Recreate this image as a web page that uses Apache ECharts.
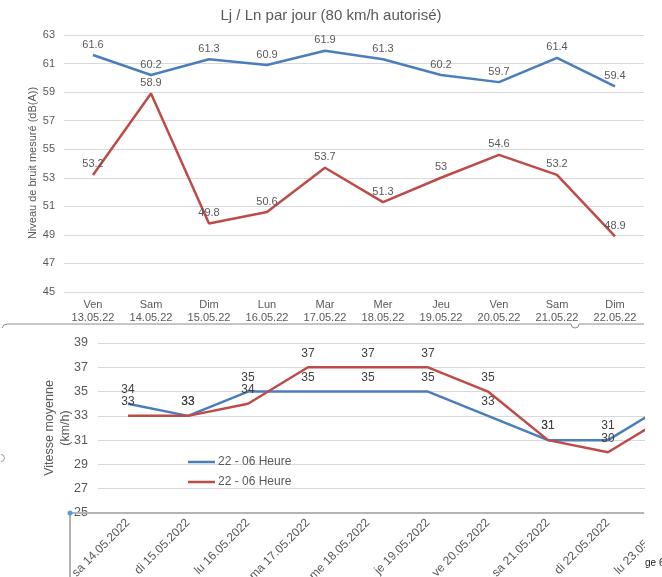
<!DOCTYPE html>
<html>
<head>
<meta charset="utf-8">
<script src="https://cdn.jsdelivr.net/npm/echarts@6/dist/echarts.min.js"></script>
<style>
  html, body { margin: 0; padding: 0; background: #ffffff; }
  #chart { width: 662px; height: 577px; }
</style>
</head>
<body>
<div id="chart"></div>
<script>
// Daily noise levels (upper panel)
const dayLabels = ['Ven\n13.05.22', 'Sam\n14.05.22', 'Dim\n15.05.22', 'Lun\n16.05.22', 'Mar\n17.05.22',
                   'Mer\n18.05.22', 'Jeu\n19.05.22', 'Ven\n20.05.22', 'Sam\n21.05.22', 'Dim\n22.05.22'];
const lj = [61.6, 60.2, 61.3, 60.9, 61.9, 61.3, 60.2, 59.7, 61.4, 59.4];
const ln = [53.2, 58.9, 49.8, 50.6, 53.7, 51.3, 53, 54.6, 53.2, 48.9];

// Night-time mean speed (lower panel)
const speedDays = ['sa 14.05.2022', 'di 15.05.2022', 'lu 16.05.2022', 'ma 17.05.2022', 'me 18.05.2022',
                   'je 19.05.2022', 've 20.05.2022', 'sa 21.05.2022', 'di 22.05.2022', 'lu 23.05.2022'];
const speedBlue = [34, 33, 35, 35, 35, 35, 33, 31, 31, 34];
const speedRed = [33, 33, 34, 37, 37, 37, 35, 31, 30, 33];
const legendName = '22 - 06 Heure';

const BLUE = '#4A7EBB';
const RED = '#BE4B48';
const GREY = '#595959';
const GRID = '#d9d9d9';
const FONT = '"Liberation Sans", Arial, sans-serif';

const chart = echarts.init(document.getElementById('chart'), null, { renderer: 'canvas' });

function lineSeries(data, color, xi, yi, fontSize, dist, z) {
  return {
    type: 'line',
    xAxisIndex: xi,
    yAxisIndex: yi,
    data: data,
    symbol: 'circle',
    symbolSize: 0,
    z: z,
    lineStyle: { color: color, width: 2.5 },
    itemStyle: { color: color },
    label: {
      show: true, position: 'top', distance: dist,
      color: xi === 0 ? GREY : '#404040', fontSize: fontSize, fontFamily: FONT
    },
    emphasis: { disabled: true },
    animation: false
  };
}

const option = {
  animation: false,
  backgroundColor: '#ffffff',
  textStyle: { fontFamily: FONT },
  title: {
    text: 'Lj / Ln par jour (80 km/h autorisé)',
    left: 'center', top: 3,
    textStyle: { fontSize: 15, fontWeight: 'normal', color: GREY, fontFamily: FONT }
  },
  grid: [
    { left: 64, top: 35, width: 580, height: 257, outerBoundsMode: 'none', containLabel: false },
    { left: 98, top: 343, width: 600, height: 170, outerBoundsMode: 'none', containLabel: false }
  ],
  xAxis: [
    {
      gridIndex: 0, type: 'category', data: dayLabels, boundaryGap: true,
      axisLine: { lineStyle: { color: GRID } }, axisTick: { show: false },
      axisLabel: { color: GREY, fontSize: 11, lineHeight: 13, margin: 6, interval: 0, fontFamily: FONT }
    },
    {
      gridIndex: 1, type: 'category', data: speedDays, boundaryGap: true,
      axisLine: { show: false }, axisTick: { show: false },
      axisLabel: { color: GREY, fontSize: 12, rotate: 45, margin: 8, interval: 0, fontFamily: FONT }
    }
  ],
  yAxis: [
    {
      gridIndex: 0, type: 'value', min: 45, max: 63, interval: 2,
      axisLine: { show: false }, axisTick: { show: false },
      splitLine: { lineStyle: { color: GRID, width: 1 } },
      axisLabel: { color: GREY, fontSize: 11, margin: 9, fontFamily: FONT }
    },
    {
      gridIndex: 1, type: 'value', min: 25, max: 39, interval: 2,
      axisLine: { show: false }, axisTick: { show: false },
      splitLine: { lineStyle: { color: GRID, width: 1 } },
      axisLabel: { color: GREY, fontSize: 12.5, margin: 10, fontFamily: FONT }
    }
  ],
  series: [
    lineSeries(lj, BLUE, 0, 0, 11, 5, 3),
    lineSeries(ln, RED, 0, 0, 11, 5, 3),
    lineSeries(speedBlue, BLUE, 1, 1, 12, 8, 3),
    lineSeries(speedRed, RED, 1, 1, 12, 8, 4)
  ],
  graphic: [
    // axis titles
    {
      type: 'text', x: 33, y: 163, rotation: Math.PI / 2, z: 10,
      style: { text: 'Niveau de bruit mesuré (dB(A))', fill: GREY, font: '11px ' + FONT,
               textAlign: 'center', textVerticalAlign: 'middle' }
    },
    {
      type: 'text', x: 58, y: 428, rotation: Math.PI / 2, z: 10,
      style: { text: 'Vitesse moyenne\n(km/h)', fill: GREY, font: '12.5px ' + FONT,
               textAlign: 'center', textVerticalAlign: 'middle', lineHeight: 16 }
    },
    // legend of the speed panel
    { type: 'line', z: 10, shape: { x1: 188, y1: 462, x2: 215, y2: 462 }, style: { stroke: BLUE, lineWidth: 2.5 } },
    { type: 'text', z: 10, x: 218, y: 462,
      style: { text: legendName, fill: GREY, font: '12px ' + FONT, textVerticalAlign: 'middle' } },
    { type: 'line', z: 10, shape: { x1: 188, y1: 482, x2: 215, y2: 482 }, style: { stroke: RED, lineWidth: 2.5 } },
    { type: 'text', z: 10, x: 218, y: 482,
      style: { text: legendName, fill: GREY, font: '12px ' + FONT, textVerticalAlign: 'middle' } },
    // page separator between the two panels
    { type: 'polyline', z: 10, shape: { points: [[2, 328], [4, 325], [7, 324], [571, 324]] },
      style: { stroke: '#8c8c8c', lineWidth: 1, fill: null } },
    { type: 'arc', z: 10, shape: { cx: 575, cy: 324, r: 4, startAngle: 0, endAngle: Math.PI },
      style: { stroke: '#8c8c8c', lineWidth: 1, fill: null } },
    { type: 'line', z: 10, shape: { x1: 579, y1: 324, x2: 644, y2: 324 }, style: { stroke: '#8c8c8c', lineWidth: 1 } },
    // right-hand page margin that cuts the speed panel
    { type: 'rect', z: 20, shape: { x: 645, y: 330, width: 20, height: 250 }, style: { fill: '#ffffff' } },
    { type: 'text', z: 21, x: 645, y: 563,
      style: { text: 'ge 6', fill: '#222222', font: '10px ' + FONT, textVerticalAlign: 'middle' } },
    // selection frame on the speed panel
    { type: 'line', z: 9, shape: { x1: 70, y1: 513, x2: 644, y2: 513 }, style: { stroke: '#b3b3b3', lineWidth: 2 } },
    { type: 'line', z: 9, shape: { x1: 70, y1: 513, x2: 70, y2: 577 }, style: { stroke: '#b3b3b3', lineWidth: 2 } },
    { type: 'circle', z: 11, shape: { cx: 70, cy: 513, r: 2.5 }, style: { fill: '#5b9bd5' } },
    { type: 'arc', z: 10, shape: { cx: 1, cy: 458, r: 3.5, startAngle: -Math.PI / 2, endAngle: Math.PI / 2 },
      style: { stroke: '#9a9a9a', lineWidth: 1, fill: null } }
  ]
};

chart.setOption(option);
</script>
</body>
</html>
